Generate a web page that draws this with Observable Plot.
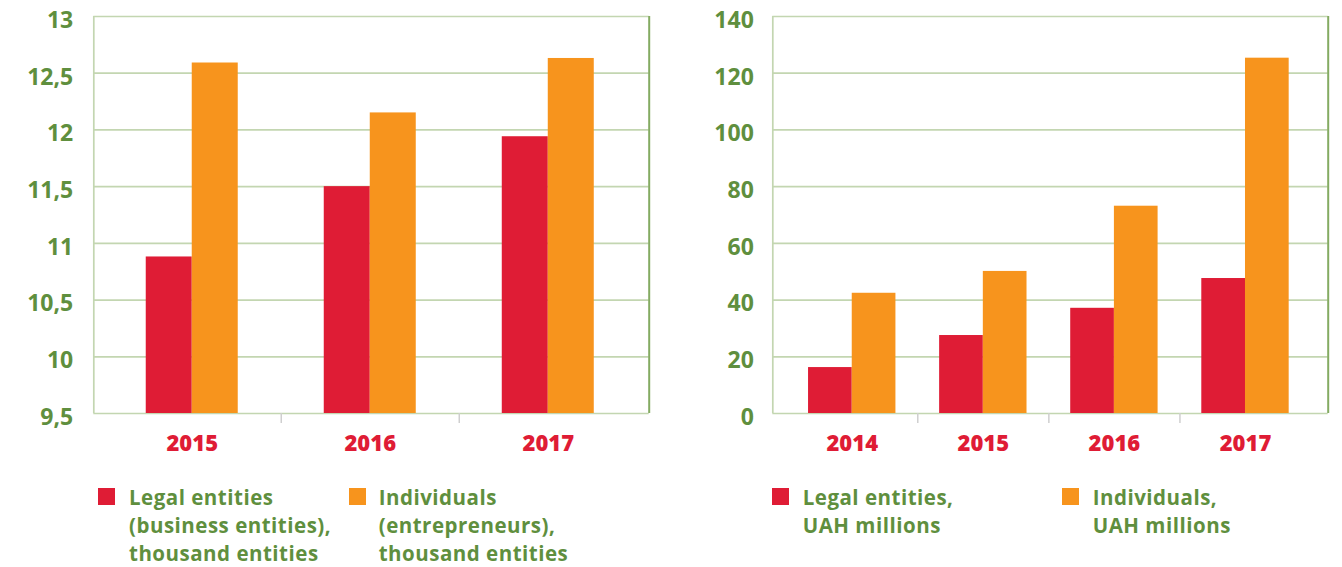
<!DOCTYPE html>
<html><head><meta charset="utf-8">
<script src="https://cdn.jsdelivr.net/npm/d3@7"></script>
<script src="https://cdn.jsdelivr.net/npm/@observablehq/plot@0.6"></script>
<style>
html,body{margin:0;padding:0;background:#fff;}
body{width:1342px;height:567px;overflow:hidden;position:relative;font-family:"Open Sans",sans-serif;}
.panel{position:absolute;top:0;}
.sw{position:absolute;width:17px;height:17px;}
.lt{position:absolute;color:#5f8f3e;font-size:20.5px;font-weight:700;letter-spacing:0.5px;line-height:28px;white-space:nowrap;}
</style></head><body>
<div id="left" class="panel" style="left:0px"></div>
<div id="right" class="panel" style="left:660px"></div>
<div id="legends"></div>
<script>
// ---- data ----
const leftYears = [2015, 2016, 2017];
const leftLegal = [10.88, 11.50, 11.94];
const leftIndividuals = [12.59, 12.15, 12.63];
const leftTicks = [9.5, 10, 10.5, 11, 11.5, 12, 12.5, 13];
const leftTickLabels = ["9,5", "10", "10,5", "11", "11,5", "12", "12,5", "13"];

const rightYears = [2014, 2015, 2016, 2017];
const rightLegal = [16.2, 27.5, 37.1, 47.6];
const rightIndividuals = [42.4, 50.1, 73.1, 125.3];
const rightTicks = [0, 20, 40, 60, 80, 100, 120, 140];
const rightTickLabels = ["0", "20", "40", "60", "80", "100", "120", "140"];

const seriesKeys = ["legal", "individuals"];
const leftLegendLines = [
  ["Legal entities", "(business entities),", "thousand entities"],
  ["Individuals", "(entrepreneurs),", "thousand entities"]
];
const rightLegendLines = [
  ["Legal entities,", "UAH millions"],
  ["Individuals,", "UAH millions"]
];

// ---- styles ----
const colors = {legal: "#df1c35", individuals: "#f7941d"};
const GREEN = "#5f8f3e";
const GRID = "#c3d6b1";
const RIGHT_BORDER = "#84ab62";

function chart({years, legal, indiv, ticks, tickLabels, yDomain, xDomain, barW, width, marginLeft, marginRight, tickPadding}) {
  const rows = years.flatMap((yr, i) => [
    {year: yr, series: "legal", value: legal[i]},
    {year: yr, series: "individuals", value: indiv[i]}
  ]);
  const bounds = years.slice(1).map(y => y - 0.5);
  const labelOf = new Map(ticks.map((t, i) => [t, tickLabels[i]]));
  return Plot.plot({
    width, height: 470,
    marginLeft, marginRight, marginTop: 16, marginBottom: 57,
    x: {domain: xDomain, label: null},
    y: {domain: yDomain, label: null},
    style: {fontFamily: "'Open Sans', sans-serif", overflow: "visible", background: "transparent"},
    marks: [
      Plot.ruleY(ticks, {stroke: GRID, strokeWidth: 1.7}),
      Plot.ruleX([xDomain[0]], {stroke: GRID, strokeWidth: 1.7}),
      Plot.rect(rows, {
        x1: d => d.series === "legal" ? d.year - barW : d.year,
        x2: d => d.series === "legal" ? d.year : d.year + barW,
        y1: yDomain[0],
        y2: "value",
        fill: d => colors[d.series]
      }),
      Plot.ruleX([xDomain[1]], {stroke: RIGHT_BORDER, strokeWidth: 2}),
      Plot.axisY({ticks, tickFormat: t => labelOf.get(t), tickSize: 0, tickPadding, label: null,
        fill: GREEN, fontSize: 23, fontWeight: 700, dy: 4}),
      Plot.axisX({ticks: bounds, tickSize: 10, tickFormat: () => "", label: null, stroke: "#cfcfcf", strokeWidth: 1.5}),
      Plot.axisX({ticks: years, tickSize: 0, tickPadding: 22, tickFormat: d => String(d), label: null,
        fill: colors.legal, fontSize: 22, fontWeight: 800})
    ]
  });
}

document.getElementById("left").append(chart({
  years: leftYears, legal: leftLegal, indiv: leftIndividuals,
  ticks: leftTicks, tickLabels: leftTickLabels,
  yDomain: [9.5, 13], xDomain: [2014.447, 2017.567], barW: 0.2584,
  width: 660, marginLeft: 93.3, marginRight: 11.3, tickPadding: 20.6
}));

document.getElementById("right").append(chart({
  years: rightYears, legal: rightLegal, indiv: rightIndividuals,
  ticks: rightTicks, tickLabels: rightTickLabels,
  yDomain: [0, 140], xDomain: [2013.394, 2017.631], barW: 0.3333,
  width: 682, marginLeft: 112.3, marginRight: 14.3, tickPadding: 19
}));

// ---- legends ----
const legendSpecs = [
  {lines: leftLegendLines, sw: [98, 348.7], tx: [129, 378.7]},
  {lines: rightLegendLines, sw: [771.7, 1062], tx: [802.7, 1092.7]}
];
const leg = d3.select("#legends");
legendSpecs.forEach(spec => {
  seriesKeys.forEach((k, i) => {
    leg.append("div").attr("class", "sw")
      .style("left", spec.sw[i] + "px").style("top", "488px")
      .style("background", colors[k]);
    leg.append("div").attr("class", "lt")
      .style("left", spec.tx[i] + "px").style("top", "483px")
      .html(spec.lines[i].join("<br>"));
  });
});
</script>
</body></html>
